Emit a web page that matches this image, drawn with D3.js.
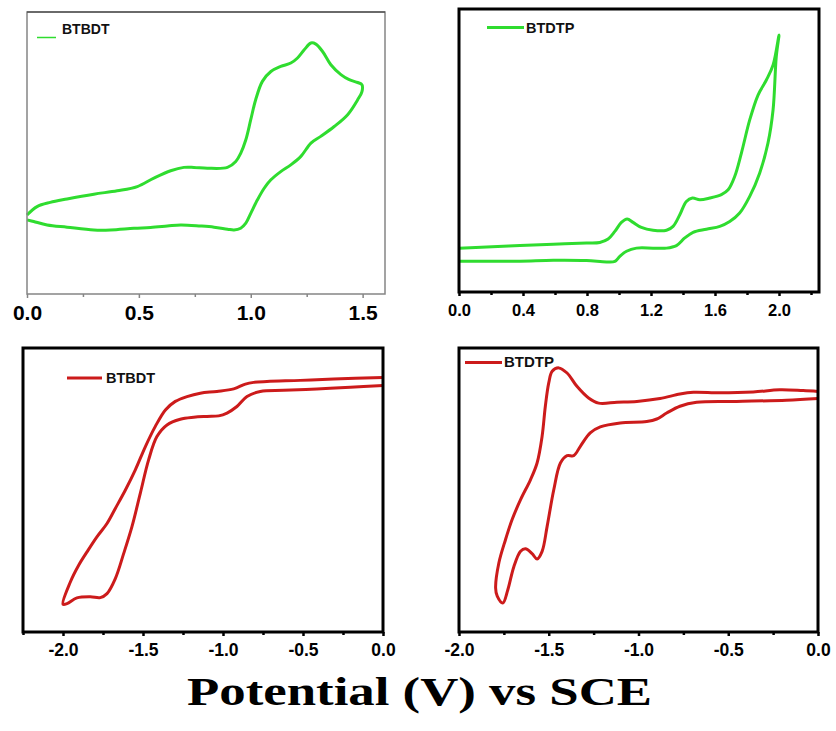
<!DOCTYPE html>
<html>
<head>
<meta charset="utf-8">
<script src="https://cdn.jsdelivr.net/npm/d3@7"></script>
<style>
  body { margin: 0; background: #fff; }
  text { font-family: Arial, "Liberation Sans", sans-serif; }
</style>
</head>
<body>
<div id="chart"></div>
<script>
var svgWidth = 836;
var svgHeight = 731;

// cyclic voltammograms, potential (V vs SCE) and current (arb. units)
// BTBDT oxidation scan, forward then reverse
var btbdtOxV = [0, 0.045, 0.104, 0.179, 0.299, 0.403, 0.493, 0.567, 0.642, 0.701, 0.746, 0.806, 0.896, 0.933, 0.955, 0.978, 1.000, 1.022, 1.052, 1.090, 1.134, 1.179, 1.209, 1.239, 1.269, 1.291, 1.321, 1.358, 1.403, 1.440, 1.478, 1.497,
  1.497, 1.478, 1.433, 1.373, 1.313, 1.269, 1.224, 1.179, 1.134, 1.090, 1.060, 1.030, 1.000, 0.978, 0.955, 0.925, 0.896, 0.836, 0.776, 0.687, 0.627, 0.552, 0.478, 0.373, 0.299, 0.179, 0.090, 0.030, 0];
var btbdtOxI = [28.0, 31.0, 32.5, 33.7, 35.4, 36.6, 38.1, 41.1, 43.7, 44.9, 44.9, 44.6, 44.9, 47.0, 49.9, 54.7, 61.8, 68.9, 75.4, 78.9, 80.7, 81.9, 83.7, 86.6, 89.0, 88.6, 86.0, 81.3, 77.8, 76.0, 75.0, 74.2,
  71.8, 68.9, 63.6, 59.4, 55.9, 53.5, 48.8, 45.8, 43.4, 40.5, 37.5, 33.4, 28.6, 25.1, 23.3, 22.7, 23.0, 23.7, 24.1, 24.5, 24.1, 23.6, 23.3, 22.7, 22.7, 23.7, 24.5, 25.7, 26.3];

// BTDTP oxidation scan
var btdtpOxV = [0, 0.173, 0.381, 0.589, 0.797, 0.880, 0.932, 0.974, 1.015, 1.051, 1.088, 1.140, 1.213, 1.297, 1.338, 1.380, 1.421, 1.459, 1.505, 1.567, 1.640, 1.682, 1.723, 1.765, 1.817, 1.869, 1.921, 1.963, 2.0,
  1.983, 1.963, 1.931, 1.879, 1.817, 1.754, 1.692, 1.630, 1.546, 1.463, 1.411, 1.359, 1.297, 1.213, 1.109, 1.047, 1.005, 0.974, 0.922, 0.797, 0.589, 0.381, 0.173, 0];
var btdtpOxI = [15.5, 15.9, 16.4, 16.9, 17.3, 17.5, 18.7, 21.4, 24.6, 25.8, 24.6, 22.8, 21.8, 21.8, 23.2, 27.3, 32.0, 33.2, 32.6, 33.2, 34.4, 36.1, 40.8, 49.1, 60.8, 69.6, 74.9, 80.2, 90.8,
  83.2, 64.4, 52.6, 42.0, 33.8, 27.9, 24.9, 23.2, 22.2, 21.1, 19.1, 16.4, 15.5, 15.5, 15.5, 14.4, 12.6, 10.8, 10.6, 11.1, 11.2, 10.9, 10.9, 10.9];

// BTBDT reduction scan
var btbdtRedV = [0, -0.308, -0.517, -0.725, -0.808, -0.860, -0.933, -1.038, -1.142, -1.225, -1.298, -1.360, -1.423, -1.485, -1.548, -1.610, -1.673, -1.725, -1.788, -1.850, -1.902, -1.954, -2.0,
  -1.975, -1.913, -1.829, -1.767, -1.725, -1.673, -1.621, -1.569, -1.517, -1.465, -1.413, -1.350, -1.267, -1.183, -1.100, -1.027, -0.975, -0.913, -0.850, -0.767, -0.621, -0.413, -0.204, 0];
var btbdtRedI = [89.6, 89.1, 88.6, 88.2, 87.9, 87.3, 85.6, 84.7, 84.1, 82.9, 81.2, 78.2, 72.4, 65.3, 57.1, 50.0, 43.5, 38.2, 33.5, 28.2, 23.5, 17.6, 9.8,
  10.0, 12.0, 12.4, 12.1, 13.5, 18.8, 27.6, 37.1, 48.8, 60.6, 68.8, 72.9, 74.9, 75.6, 75.9, 76.1, 77.1, 79.4, 82.9, 84.7, 85.1, 85.6, 86.2, 86.8];

// BTDTP reduction scan
var btdtpRedV = [0, -0.083, -0.213, -0.361, -0.546, -0.694, -0.769, -0.880, -1.009, -1.120, -1.222, -1.278, -1.343, -1.398, -1.444, -1.481, -1.500, -1.519, -1.537, -1.565, -1.602, -1.657, -1.704, -1.741, -1.778, -1.796,
  -1.787, -1.756, -1.728, -1.694, -1.657, -1.630, -1.593, -1.565, -1.537, -1.509, -1.472, -1.435, -1.398, -1.361, -1.324, -1.269, -1.213, -1.102, -0.954, -0.898, -0.843, -0.769, -0.676, -0.454, -0.176, 0];
var btdtpRedI = [84.7, 85.0, 85.3, 84.5, 84.2, 84.4, 83.8, 82.2, 81.2, 80.9, 80.6, 82.4, 86.5, 91.2, 93.0, 91.8, 87.7, 79.5, 68.9, 59.5, 53.6, 46.6, 39.6, 32.5, 24.3, 15.5,
  12.6, 10.2, 14.9, 23.1, 28.4, 29.3, 27.6, 25.7, 28.4, 37.2, 50.1, 59.5, 62.1, 62.1, 65.4, 70.1, 72.2, 73.6, 74.1, 75.0, 77.1, 79.5, 80.9, 81.2, 81.6, 82.2];

// tick values
var oxTicks1 = [0, 0.5, 1.0, 1.5];
var oxMinor1 = [0.25, 0.75, 1.25];
var oxTicks2 = [0, 0.4, 0.8, 1.2, 1.6, 2.0];
var oxMinor2 = [0.2, 0.6, 1.0, 1.4, 1.8, 2.2];
var redTicks = [-2.0, -1.5, -1.0, -0.5, 0];
var redMinor3 = [-2.25, -1.75, -1.25, -0.75, -0.25];
var redMinor4 = [-1.75, -1.25, -0.75, -0.25];

var green = "#2fdc2f";
var red = "#cc1b1b";

var svg = d3.select("#chart")
  .append("svg")
  .attr("width", svgWidth)
  .attr("height", svgHeight);

var panels = [
  { v: btbdtOxV, i: btbdtOxI, name: "BTBDT", color: green,
    left: 27, top: 12, right: 385, bottom: 294, domain: [0, 1.6],
    ticks: oxTicks1, minor: oxMinor1, frame: "#858585", frameW: 1.5, tickFont: 21, labelY: 320,
    leg: { x1: 37, x2: 56, y: 37.5, w: 1.5, tx: 62, ty: 34, size: 14 } },
  { v: btdtpOxV, i: btdtpOxI, name: "BTDTP", color: green,
    left: 459, top: 9, right: 819, bottom: 292, domain: [0, 2.25],
    ticks: oxTicks2, minor: oxMinor2, frame: "#000", frameW: 3, tickFont: 16.5, labelY: 316,
    leg: { x1: 487, x2: 524, y: 27.5, w: 3, tx: 526, ty: 32.5, size: 14.5 } },
  { v: btbdtRedV, i: btbdtRedI, name: "BTBDT", color: red,
    left: 23, top: 348, right: 383, bottom: 632, domain: [-2.25, 0],
    ticks: redTicks, minor: redMinor3, frame: "#000", frameW: 3, tickFont: 17.5, labelY: 656,
    leg: { x1: 67, x2: 102, y: 378, w: 3, tx: 106, ty: 383, size: 14.5 } },
  { v: btdtpRedV, i: btdtpRedI, name: "BTDTP", color: red,
    left: 459, top: 348, right: 818, bottom: 632, domain: [-2.0, 0],
    ticks: redTicks, minor: redMinor4, frame: "#000", frameW: 3, tickFont: 17.5, labelY: 656,
    leg: { x1: 465, x2: 502, y: 362.5, w: 3, tx: 504, ty: 367, size: 15 } }
];

panels.forEach(function (p) {
  var x = d3.scaleLinear().domain(p.domain).range([p.left, p.right]);
  var y = d3.scaleLinear().domain([0, 100]).range([p.bottom, p.top]);
  var g = svg.append("g");

  // major and minor ticks along the bottom
  var major = g.append("g")
    .attr("transform", `translate(0, ${p.bottom})`)
    .call(d3.axisBottom(x).tickValues(p.ticks).tickSize(4).tickPadding(0)
      .tickFormat(d => d.toFixed(1)));
  var minor = g.append("g")
    .attr("transform", `translate(0, ${p.bottom})`)
    .call(d3.axisBottom(x).tickValues(p.minor).tickSize(3).tickFormat(""));

  [major, minor].forEach(function (a) {
    a.select(".domain").remove();
    a.selectAll("line").attr("stroke", p.frame).attr("stroke-width", p.frameW === 3 ? 2.5 : 1.5);
  });
  major.selectAll("text")
    .attr("y", p.labelY - p.bottom)
    .attr("dy", null)
    .attr("fill", "#000")
    .style("font-size", p.tickFont + "px")
    .style("font-weight", "bold");

  // the CV loop
  var pts = p.v.map((d, k) => [d, p.i[k]]);
  var line = d3.line()
    .x(d => x(d[0]))
    .y(d => y(d[1]))
    .curve(d3.curveCatmullRom.alpha(0.5));
  g.append("path")
    .datum(pts)
    .attr("d", line)
    .attr("fill", "none")
    .attr("stroke", p.color)
    .attr("stroke-width", 3)
    .attr("stroke-linejoin", "round");

  // frame
  g.append("rect")
    .attr("x", p.left)
    .attr("y", p.top)
    .attr("width", p.right - p.left)
    .attr("height", p.bottom - p.top)
    .attr("fill", "none")
    .attr("stroke", p.frame)
    .attr("stroke-width", p.frameW);
  if (p.frameW < 2) {
    g.append("line")
      .attr("x1", p.left).attr("x2", p.right)
      .attr("y1", p.top).attr("y2", p.top)
      .attr("stroke", "#333").attr("stroke-width", 1.2);
  }

  // legend
  g.append("line")
    .attr("x1", p.leg.x1).attr("x2", p.leg.x2)
    .attr("y1", p.leg.y).attr("y2", p.leg.y)
    .attr("stroke", p.color)
    .attr("stroke-width", p.leg.w);
  g.append("text")
    .attr("x", p.leg.tx)
    .attr("y", p.leg.ty)
    .style("font-size", p.leg.size + "px")
    .style("font-weight", "bold")
    .attr("fill", "#111")
    .text(p.name);
});

// shared axis title
svg.append("text")
  .attr("x", 187)
  .attr("y", 705)
  .attr("textLength", 465)
  .attr("lengthAdjust", "spacingAndGlyphs")
  .style("font-family", "'Liberation Serif', 'Times New Roman', serif")
  .style("font-size", "39px")
  .style("font-weight", "bold")
  .text("Potential (V) vs SCE");
</script>
</body>
</html>
